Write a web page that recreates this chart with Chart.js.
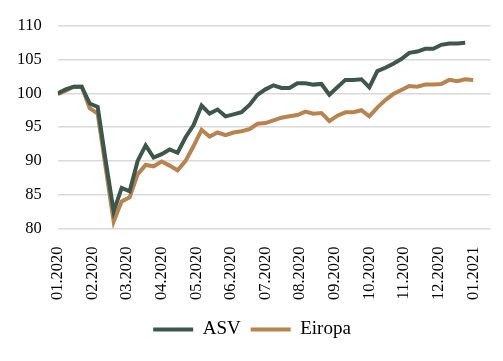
<!DOCTYPE html>
<html lang="lv">
  <head>
    <meta charset="UTF-8" />
    <title>ASV un Eiropa</title>
    <style>
      html, body { margin: 0; padding: 0; background: #fff; }
      #wrap { width: 503px; height: 361px; }
    </style>
  </head>
  <body>
    <div id="wrap"><canvas id="myChart" width="503" height="361"></canvas></div>

    <script src="https://cdn.jsdelivr.net/npm/chart.js"></script>
    <script>
      // month tick labels
      const months = [
        "01.2020", "02.2020", "03.2020", "04.2020", "05.2020", "06.2020", "07.2020",
        "08.2020", "09.2020", "10.2020", "11.2020", "12.2020", "01.2021"
      ];

      // weekly index values
      const asv = [
        100, 100.6, 101, 101, 98.5, 98, 90, 82.5, 86, 85.5,
        90, 92.3, 90.5, 91, 91.7, 91.2, 93.5, 95.3, 98.2, 97,
        97.6, 96.6, 96.9, 97.2, 98.3, 99.8, 100.6, 101.2, 100.8, 100.8,
        101.5, 101.5, 101.3, 101.4, 99.8, 100.9, 102, 102, 102.1, 100.9,
        103.3, 103.8, 104.4, 105.1, 106, 106.2, 106.6, 106.6, 107.2, 107.4,
        107.4, 107.5
      ];
      const eiropa = [
        99.9, 100.4, 101, 101, 97.8, 97, 89, 81, 84, 84.6,
        88, 89.4, 89.2, 89.9, 89.3, 88.6, 90, 92.2, 94.6, 93.6,
        94.2, 93.8, 94.2, 94.4, 94.7, 95.5, 95.6, 96, 96.4, 96.6,
        96.8, 97.3, 97, 97.1, 95.9, 96.7, 97.2, 97.2, 97.5, 96.6,
        97.9, 99, 99.9, 100.5, 101.1, 101, 101.3, 101.3, 101.4, 102,
        101.8, 102.1, 102
      ];

      const weeksPerYear = 52;
      const toPoints = (arr) => arr.map((v, i) => ({ x: (i * 12) / weeksPerYear, y: v }));

      const ctx = document.getElementById("myChart").getContext("2d");
      const chart = new Chart(ctx, {
        type: "line",
        data: {
          datasets: [
            {
              label: "ASV",
              data: toPoints(asv),
              borderColor: "#3e574c",
              backgroundColor: "#3e574c",
              borderWidth: 4,
              pointRadius: 0,
              tension: 0,
            },
            {
              label: "Eiropa",
              data: toPoints(eiropa),
              borderColor: "#b9834f",
              backgroundColor: "#b9834f",
              borderWidth: 4,
              pointRadius: 0,
              tension: 0,
            },
          ],
        },
        options: {
          responsive: false,
          animation: false,
          layout: { padding: { left: 1, right: 0, top: 9, bottom: 12 } },
          font: { family: "'Liberation Serif', serif" },
          plugins: {
            tooltip: { enabled: false },
            legend: {
              position: "bottom",
              labels: {
                color: "#000",
                font: { family: "'Liberation Serif', serif", size: 19 },
                boxWidth: 40,
                boxHeight: 4,
                padding: 10,
                generateLabels: (c) =>
                  Chart.defaults.plugins.legend.labels
                    .generateLabels(c)
                    .map((it) => Object.assign(it, { lineWidth: 0 })),
              },
            },
          },
          scales: {
            x: {
              type: "linear",
              min: 0,
              max: 12.5,
              afterBuildTicks: (axis) => {
                axis.ticks = months.map((m, i) => ({ value: i }));
              },
              grid: { display: false },
              border: { display: false },
              ticks: {
                color: "#000",
                font: { family: "'Liberation Serif', serif", size: 16.5 },
                minRotation: 90,
                maxRotation: 90,
                padding: 10,
                callback: (v) => months[v],
              },
            },
            y: {
              min: 80,
              max: 110,
              grid: { color: "#d9d9d9", lineWidth: 1.5, drawTicks: false },
              border: { display: false },
              ticks: {
                stepSize: 5,
                color: "#000",
                font: { family: "'Liberation Serif', serif", size: 16.5 },
                padding: 16,
              },
            },
          },
        },
      });
    </script>
  </body>
</html>
